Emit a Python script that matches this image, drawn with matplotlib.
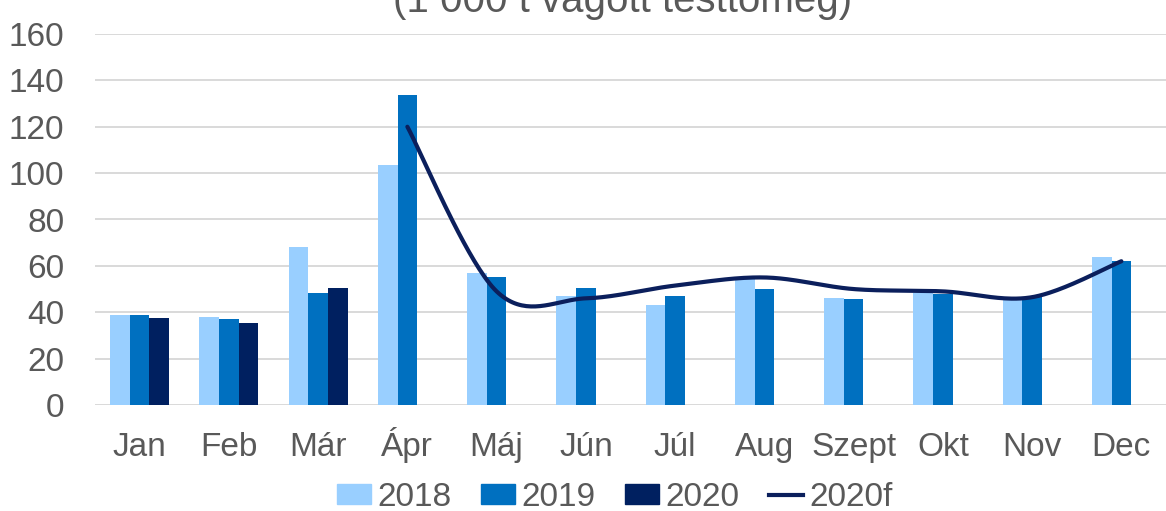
import matplotlib
matplotlib.use("Agg")
import matplotlib.pyplot as plt
from matplotlib.lines import Line2D
from matplotlib.patches import Patch
import numpy as np

plt.rcParams['font.family'] = ['Liberation Sans', 'DejaVu Sans']

months = ['Jan', 'Feb', 'Már', 'Ápr', 'Máj', 'Jún', 'Júl', 'Aug', 'Szept', 'Okt', 'Nov', 'Dec']
v2018 = [39, 38, 68, 103.5, 57, 47, 43, 54.5, 46, 48.5, 46, 64]
v2019 = [39, 37, 48.5, 133.5, 55, 50.5, 47, 50, 45.5, 48, 46.5, 62]
v2020 = [37.5, 35.5, 50.5]
f2020_months = ['Ápr', 'Máj', 'Jún', 'Júl', 'Aug', 'Szept', 'Okt', 'Nov', 'Dec']
f2020 = [120, 49, 46, 51.5, 55, 50, 49, 46.5, 62]
yticks = [0, 20, 40, 60, 80, 100, 120, 140, 160]
title = '(1 000 t vágott testtömeg)'

c18, c19, c20, cf = '#99CFFF', '#0070C0', '#002060', '#0B1F5C'
grey = '#595959'


def smooth(xs, ys, n=40):
    # excel-ish smoothed line: bezier with catmull-rom control points
    xs = np.asarray(xs, float); ys = np.asarray(ys, float)
    px = np.concatenate([[xs[0]], xs, [xs[-1]]])
    py = np.concatenate([[ys[0]], ys, [ys[-1]]])
    ox, oy = [], []
    t = np.linspace(0, 1, n)
    for i in range(1, len(px) - 2):
        p0 = np.array([px[i], py[i]]); p3 = np.array([px[i + 1], py[i + 1]])
        p1 = p0 + (np.array([px[i + 1], py[i + 1]]) - np.array([px[i - 1], py[i - 1]])) / 6
        p2 = p3 - (np.array([px[i + 2], py[i + 2]]) - np.array([px[i], py[i]])) / 6
        b = ((1 - t) ** 3)[:, None] * p0 + (3 * (1 - t) ** 2 * t)[:, None] * p1 \
            + (3 * (1 - t) * t ** 2)[:, None] * p2 + (t ** 3)[:, None] * p3
        ox.extend(b[:, 0]); oy.extend(b[:, 1])
    return ox, oy


fig = plt.figure(figsize=(11.66, 5.11), dpi=100)
ax = fig.add_axes([95 / 1166, 1 - 405 / 511, 1 - 95 / 1166, 371 / 511])

x = np.arange(len(months))
w = 0.22
ax.bar(x - w, v2018, w, color=c18, zorder=2)
ax.bar(x, v2019, w, color=c19, zorder=2)
ax.bar(x[:len(v2020)] + w, v2020, w, color=c20, zorder=2)

fx = [months.index(m) for m in f2020_months]
sx, sy = smooth(fx, f2020)
ax.plot(sx, sy, color=cf, lw=3, zorder=3, solid_capstyle='round')

ax.set_xlim(-0.5, len(months) - 0.5)
ax.set_ylim(0, 160)
ax.set_yticks(yticks)
ax.set_xticks(x)
ax.set_xticklabels(months, va='baseline')
ax.grid(axis='y', color='#D9D9D9', lw=1.4, zorder=0)
ax.set_axisbelow(True)
for s in ax.spines.values():
    s.set_visible(False)
ax.tick_params(axis='both', length=0, labelsize=24, colors=grey)
ax.tick_params(axis='y', pad=22)
ax.tick_params(axis='x', pad=37)

fig.text(623 / 1166, 1 - 12 / 511, title, ha='center', va='baseline', fontsize=29, color=grey)

handles = [Patch(color=c18), Patch(color=c19), Patch(color=c20), Line2D([], [], color=cf, lw=3)]
fig.legend(handles, ['2018', '2019', '2020', '2020f'], loc='center', bbox_to_anchor=(615 / 1166, 1 - 497 / 511),
           ncol=4, frameon=False, fontsize=24, labelcolor=grey, handlelength=1.0, handleheight=0.55,
           handletextpad=0.2, columnspacing=0.9, borderpad=0)

fig.savefig('out.png', dpi=100)
